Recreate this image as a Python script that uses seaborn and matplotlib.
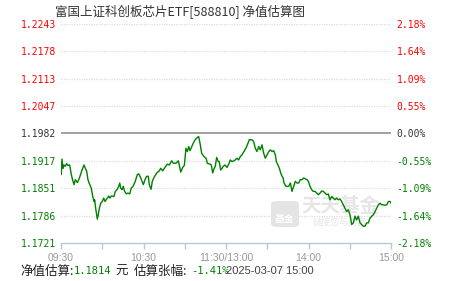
import matplotlib
matplotlib.use("Agg")
import matplotlib.pyplot as plt
import seaborn as sns
import pandas as pd
from matplotlib.patches import FancyBboxPatch

# ---------------- data ----------------
base_nav = 1.1982
y_ticks = [1.1721, 1.1786, 1.1851, 1.1917, 1.1982, 1.2047, 1.2113, 1.2178, 1.2243]
y_tick_labels = ["1.1721", "1.1786", "1.1851", "1.1917", "1.1982", "1.2047", "1.2113", "1.2178", "1.2243"]
pct_labels = ["-2.18%", "-1.64%", "-1.09%", "-0.55%", "0.00%", "0.55%", "1.09%", "1.64%", "2.18%"]
x_tick_minutes = [0, 60, 120, 180, 240]
x_tick_labels = ["09:30", "10:30", "11:30/13:00", "14:00", "15:00"]
minor_tick_minutes = [0, 30, 60, 90, 120, 150, 180, 210, 240]

minutes = [0.2, 0.7, 1.5, 2.2, 3.1, 4.1, 5.1, 6.3, 7.5, 8.7, 9.5, 10.4, 11.9, 12.9, 13.8,
           15.3, 16.7, 17.7, 18.7, 19.6, 20.9, 22.0, 23.1, 24.0, 24.5, 25.2, 26.4, 27.1,
           27.9, 28.9, 30.0, 31.1, 32.0, 33.7, 34.7, 35.6, 36.6, 38.5, 39.5, 40.9, 42.0,
           42.7, 43.4, 44.4, 45.3, 46.3, 47.5, 48.7, 50.0, 51.1, 52.4, 54.0, 55.5, 56.5,
           58.0, 59.9, 61.1, 62.3, 63.5, 64.2, 65.5, 66.4, 67.6, 69.6, 71.5, 72.5, 74.0,
           75.6, 77.3, 78.8, 80.5, 81.7, 83.6, 85.3, 86.0, 87.1, 88.5, 89.7, 90.9, 91.9,
           92.9, 93.8, 95.1, 96.2, 97.5, 98.7, 100.1, 101.1, 102.3, 104.0, 105.5, 106.4,
           108.4, 109.3, 110.3, 111.3, 112.2, 113.2, 114.4, 115.1, 116.1, 117.1, 118.0,
           119.3, 120.7, 122.0, 123.1, 124.4, 126.3, 128.0, 129.2, 130.4, 131.6, 132.9,
           134.5, 136.0, 136.9, 138.9, 140.1, 141.3, 142.5, 143.8, 144.9, 146.2, 147.4,
           148.6, 149.8, 151.1, 152.2, 153.5, 154.7, 155.9, 156.6, 157.8, 158.8, 160.2,
           161.5, 162.2, 163.6, 165.6, 166.8, 168.0, 169.2, 170.4, 171.6, 172.9, 174.0,
           175.3, 176.5, 178.9, 179.9, 181.1, 182.3, 183.5, 184.7, 186.0, 187.1, 188.4,
           189.6, 190.8, 192.0, 193.2, 194.4, 195.6, 196.9, 198.0, 199.3, 200.5, 201.7,
           202.9, 204.1, 205.3, 206.5, 207.7, 208.9, 210.2, 211.4, 212.6, 213.8, 215.0,
           216.2, 217.5, 218.7, 219.8, 221.1, 222.3, 223.5, 224.7, 226.0, 227.1, 228.4,
           229.6, 230.8, 232.0, 233.2, 234.4, 235.6, 236.9, 238.1, 239.3, 240.0]

nav = [1.1884, 1.1921, 1.1899, 1.1907, 1.1904, 1.1910, 1.1906, 1.1907, 1.1884, 1.1868,
       1.1860, 1.1872, 1.1865, 1.1872, 1.1880, 1.1895, 1.1907, 1.1899, 1.1892, 1.1872,
       1.1860, 1.1852, 1.1832, 1.1820, 1.1824, 1.1804, 1.1778, 1.1788, 1.1804, 1.1816,
       1.1820, 1.1828, 1.1820, 1.1828, 1.1833, 1.1828, 1.1833, 1.1832, 1.1844, 1.1849,
       1.1856, 1.1864, 1.1852, 1.1848, 1.1856, 1.1844, 1.1838, 1.1840, 1.1838, 1.1852,
       1.1856, 1.1868, 1.1884, 1.1886, 1.1876, 1.1860, 1.1872, 1.1880, 1.1880, 1.1860,
       1.1849, 1.1868, 1.1877, 1.1888, 1.1893, 1.1899, 1.1893, 1.1901, 1.1909, 1.1907,
       1.1917, 1.1911, 1.1911, 1.1917, 1.1907, 1.1890, 1.1901, 1.1906, 1.1947, 1.1939,
       1.1951, 1.1941, 1.1951, 1.1959, 1.1967, 1.1971, 1.1975, 1.1959, 1.1935, 1.1927,
       1.1923, 1.1911, 1.1909, 1.1907, 1.1888, 1.1898, 1.1904, 1.1925, 1.1915, 1.1915,
       1.1895, 1.1899, 1.1904, 1.1907, 1.1901, 1.1909, 1.1919, 1.1915, 1.1918, 1.1923,
       1.1919, 1.1927, 1.1931, 1.1938, 1.1947, 1.1959, 1.1967, 1.1967, 1.1963, 1.1947,
       1.1939, 1.1951, 1.1943, 1.1955, 1.1935, 1.1923, 1.1931, 1.1939, 1.1943, 1.1939,
       1.1941, 1.1931, 1.1915, 1.1907, 1.1899, 1.1884, 1.1876, 1.1864, 1.1856, 1.1856,
       1.1864, 1.1844, 1.1856, 1.1868, 1.1864, 1.1864, 1.1872, 1.1872, 1.1876, 1.1872,
       1.1868, 1.1856, 1.1848, 1.1844, 1.1844, 1.1840, 1.1836, 1.1840, 1.1845, 1.1844,
       1.1840, 1.1836, 1.1838, 1.1824, 1.1832, 1.1828, 1.1824, 1.1828, 1.1824, 1.1826,
       1.1820, 1.1812, 1.1804, 1.1796, 1.1800, 1.1788, 1.1765, 1.1769, 1.1785, 1.1776,
       1.1785, 1.1769, 1.1765, 1.1761, 1.1761, 1.1769, 1.1769, 1.1780, 1.1785, 1.1788,
       1.1796, 1.1804, 1.1812, 1.1816, 1.1812, 1.1812, 1.1811, 1.1812, 1.1820, 1.1820,
       1.1816]

title = "富国上证科创板芯片ETF[588810] 净值估算图"
est_nav_label = "净值估算:"
est_nav_value = "1.1814"
unit_label = "元"
est_chg_label = "估算张幅:"
est_chg_value = "-1.41%"
time_label = "2025-03-07 15:00"

# ---------------- style ----------------
sns.set_style("white")
plt.rcParams['font.family'] = ['Noto Sans CJK SC', 'DejaVu Sans']

RED = "#ff0000"
GREEN = "#008000"
DARK = "#333333"
GRID = "#dddddd"
AXIS = "#b9c8d9"

W, H = 451, 281
fig = plt.figure(figsize=(W / 100, H / 100), dpi=100)
fig.patch.set_facecolor("white")
ax = fig.add_axes([61 / W, 1 - 243 / H, 330 / W, 219 / H])
ax.set_facecolor("none")

df = pd.DataFrame({"minute": minutes, "nav": nav})

ax.set_xlim(0, 240)
ax.set_ylim(y_ticks[0], y_ticks[-1])

# grid lines
for v in y_ticks[1:]:
    if abs(v - base_nav) < 1e-6:
        ax.axhline(v, color="#999999", lw=1.3, zorder=1)
    else:
        ax.axhline(v, color=GRID, lw=0.9, ls=(0, (1, 1)), zorder=1)

# watermark (faint, behind the line)
logo = FancyBboxPatch((271 / W, 1 - 227 / H), 28 / W, 26 / H,
                      boxstyle="round,pad=0,rounding_size=0.012",
                      transform=fig.transFigure, facecolor="#e4e4e4",
                      edgecolor="none", zorder=1.5)
ax.add_patch(logo)
logo.set_clip_on(False)
ax.text(285 / W, 1 - 219 / H, "基金", transform=fig.transFigure, color="white",
        fontsize=7, fontweight="bold", ha="center", va="center", zorder=1.6)
ax.text(340 / W, 1 - 207 / H, "天天基金", transform=fig.transFigure, color="#e6e6e6",
        fontsize=14, fontweight="bold", ha="center", va="center", zorder=1.6)
ax.text(340 / W, 1 - 222 / H, "链接您与财富", transform=fig.transFigure, color="#e6e6e6",
        fontsize=6.5, ha="center", va="center", zorder=1.6)

sns.lineplot(data=df, x="minute", y="nav", ax=ax, color=GREEN, lw=1.0, zorder=3,
             estimator=None, sort=False)
ax.set_xlabel("")
ax.set_ylabel("")

# spines
for s in ["top", "right", "left"]:
    ax.spines[s].set_visible(False)
ax.spines["bottom"].set_color(AXIS)
ax.spines["bottom"].set_linewidth(1.0)

# x ticks
ax.set_xticks(minor_tick_minutes, minor=True)
ax.set_xticks(x_tick_minutes)
ax.set_xticklabels(x_tick_labels, fontsize=7.5, color="#999999",
                   family=["Liberation Sans", "DejaVu Sans"])
ax.tick_params(axis="x", which="both", length=4, width=1, color=AXIS,
               direction="out", pad=3, bottom=True)

# left y ticks
ax.set_yticks(y_ticks)
ax.set_yticklabels(y_tick_labels, fontsize=7, family=["DejaVu Sans Mono"])
ax.tick_params(axis="y", length=0, pad=3.5)
for lab, v in zip(ax.get_yticklabels(), y_ticks):
    lab.set_color(RED if v > base_nav + 1e-6 else (GREEN if v < base_nav - 1e-6 else DARK))

# right y ticks
ax2 = ax.twinx()
ax2.set_ylim(ax.get_ylim())
ax2.set_yticks(y_ticks)
ax2.set_yticklabels(pct_labels, fontsize=7, family=["DejaVu Sans Mono"])
ax2.tick_params(axis="y", length=0, pad=4)
for s in ax2.spines.values():
    s.set_visible(False)
for lab, v in zip(ax2.get_yticklabels(), y_ticks):
    lab.set_color(RED if v > base_nav + 1e-6 else (GREEN if v < base_nav - 1e-6 else DARK))

# title
fig.text(180 / W, 1 - 12 / H, title, ha="center", va="center", fontsize=9, color=DARK)

# bottom info line
yb = 1 - 271 / H
fig.text(20 / W, yb, est_nav_label, ha="left", va="center", fontsize=9, color="#222222")
fig.text(74 / W, yb, est_nav_value, ha="left", va="center", fontsize=7.5, color=GREEN,
         family=["DejaVu Sans Mono"])
fig.text(115 / W, yb, unit_label, ha="left", va="center", fontsize=9, color="#222222")
fig.text(134 / W, yb, est_chg_label, ha="left", va="center", fontsize=9, color="#222222")
fig.text(191 / W, yb, est_chg_value, ha="left", va="center", fontsize=7.5, color=GREEN,
         family=["DejaVu Sans Mono"])
fig.text(226 / W, yb, time_label, ha="left", va="center", fontsize=8, color="#444444",
         family=["Liberation Sans", "DejaVu Sans"])

fig.savefig("out.png", dpi=100)
